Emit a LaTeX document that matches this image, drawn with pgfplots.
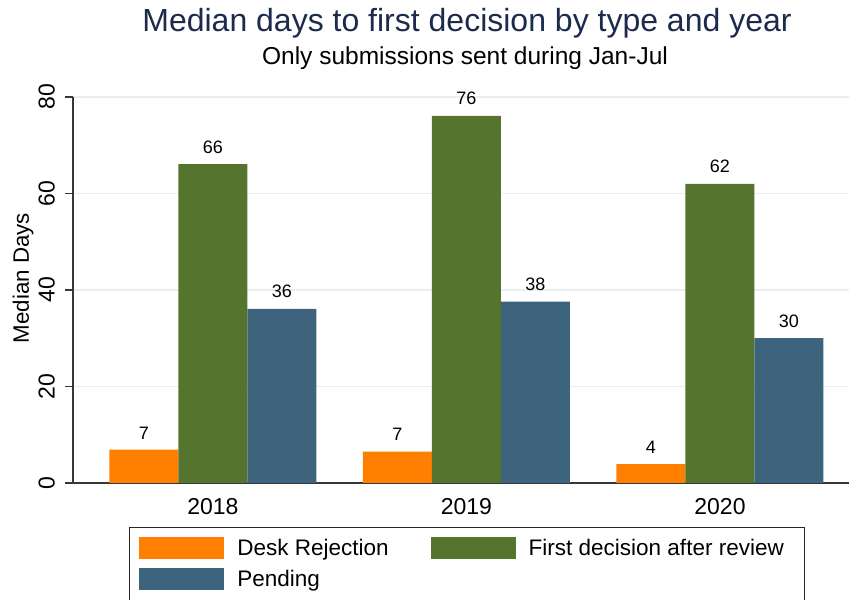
\documentclass[border=0pt]{standalone}
\usepackage{pgfplots}
\pgfplotsset{compat=1.18}
\usepackage{fontspec}
\setmainfont{Liberation Sans}
\definecolor{cOrange}{RGB}{255,127,0}
\definecolor{cGreen}{RGB}{85,117,47}
\definecolor{cBlue}{RGB}{62,100,125}
\definecolor{cGrid}{RGB}{232,239,243}
\definecolor{cTitle}{RGB}{28,43,76}
\definecolor{cAxis}{RGB}{55,55,55}
\pgfplotsset{swatch/.style={legend image code/.code={\fill[##1] (0bp,-11bp) rectangle (85bp,11bp);}}}
\begin{document}
\begin{tikzpicture}[x=1bp,y=1bp]
\clip (0,0) rectangle (849,600);
\node[anchor=base, font=\fontsize{32bp}{36bp}\selectfont, text=cTitle] at (467,568) {Median days to first decision by type and year};
\node[anchor=base, font=\fontsize{24.5bp}{28bp}\selectfont, text=black] at (465,535) {Only submissions sent during Jan-Jul};
\begin{axis}[
  at={(73bp,117bp)}, anchor=south west,
  scale only axis, width=776bp, height=386bp,
  xmin=-0.552, xmax=2.509, ymin=0, ymax=80,
  axis lines=left, axis line style={-, draw=cAxis, line width=1.2bp},
  ybar=0pt, bar width=69bp,
  xtick={0,1,2}, xticklabels={2018,2019,2020},
  ytick={0,20,40,60,80},
  ymajorgrids, grid style={draw=cGrid, line width=1.2bp},
  tick align=outside, major tick length=8bp,
  x tick style={draw=none},
  y tick style={draw=cAxis, line width=1.2bp},
  /pgf/number format/assume math mode=true,
  tick label style={font=\fontsize{23bp}{26bp}\selectfont},
  yticklabel style={rotate=90, anchor=south, inner sep=0pt, yshift=10bp},
  xticklabel style={anchor=north, inner sep=0pt, yshift=-7bp},
  every axis y label/.style={at={(axis description cs:-0.0644,0.531)}, rotate=90, anchor=center, font=\fontsize{22.3bp}{26bp}\selectfont},
  ylabel={Median Days},
  clip=false,
  nodes near coords, point meta=explicit symbolic,
  every node near coord/.append style={font=\fontsize{18bp}{20bp}\selectfont, inner sep=0pt, yshift=10.5bp, text=black},
  legend columns=2,
  legend cell align=left,
  legend style={at={(axis description cs:0.0722,-0.114)}, anchor=north west, draw=black!85, line width=0.8bp, inner sep=10bp, font=\fontsize{22.5bp}{26bp}\selectfont, row sep=9bp, /tikz/every odd column/.append style={column sep=11bp}, /tikz/every even column/.append style={column sep=40bp}},
]
\addplot[fill=cOrange, draw=none, swatch] coordinates {(0,6.9) [7] (1,6.5) [7] (2,3.9) [4]};
\addplot[fill=cGreen, draw=none, swatch] coordinates {(0,66.1) [66] (1,76.1) [76] (2,62) [62]};
\addplot[fill=cBlue, draw=none, swatch] coordinates {(0,36.1) [36] (1,37.6) [38] (2,30) [30]};
\legend{Desk Rejection, First decision after review\hspace*{9bp}, Pending}
\end{axis}
\end{tikzpicture}
\end{document}
